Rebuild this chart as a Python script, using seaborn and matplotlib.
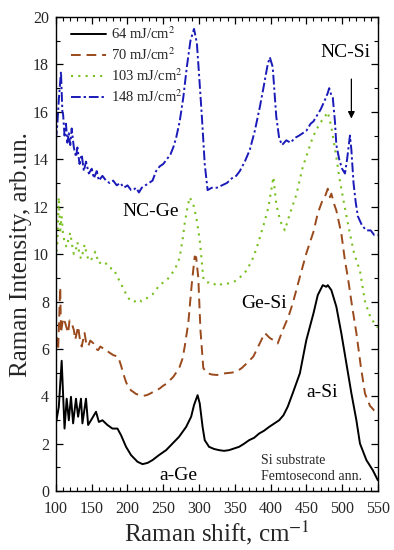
import matplotlib
matplotlib.use("Agg")
import matplotlib.pyplot as plt
import seaborn as sns
import pandas as pd
from matplotlib.ticker import MultipleLocator

# ---------------- data ----------------
x64 = [100,104,108,112,115,118,121,124,128,131,135,137,142,145,149,156,160,165,172,179,186,191,198,205,214,221,228,235,244,254,263,272,282,289,293,298,301,305,308,314,321,328,335,342,349,356,363,370,377,384,391,398,405,412,418,424,431,441,450,460,466,473,478,480,485,492,499,506,513,520,525,534,543,550]
y64 = [2.86,3.56,5.5,2.64,3.9,2.99,3.98,2.86,3.9,3.14,3.9,2.86,3.9,2.79,2.99,3.35,2.92,2.99,2.79,2.64,2.64,2.36,1.87,1.52,1.24,1.14,1.19,1.31,1.52,1.73,2.01,2.29,2.71,3.14,3.63,4.05,3.7,2.71,2.15,1.87,1.78,1.73,1.70,1.73,1.80,1.87,2.0,2.15,2.25,2.43,2.55,2.71,2.85,2.99,3.2,3.56,4.13,4.97,6.37,7.5,8.27,8.69,8.62,8.69,8.48,7.78,6.65,5.39,4.13,2.99,2.01,1.31,0.88,0.46]

x70 = [101,103,106,107,110,113,117,119,122,125,127,131,133,136,140,142,145,148,152,156,159,162,166,170,173,177,180,184,187,191,194,198,201,205,208,212,217,222,227,232,236,240,245,250,255,260,264,268,273,277,280,285,290,294,296,299,302,306,311,318,325,332,339,346,353,360,367,376,385,392,399,404,410,417,425,431,441,450,460,466,473,477,480,483,485,489,492,499,504,508,514,520,526,532,539,545,550]
y70 = [6.5,5.95,8.6,6.67,7.3,7.09,6.67,7.2,7.09,6.8,6.39,6.95,6.5,6.1,6.67,6.3,6.1,6.35,6.25,6.0,5.95,6.1,6.02,5.9,5.88,5.8,5.74,5.7,5.67,5.3,4.97,4.6,4.4,4.25,4.19,4.1,4.05,4.02,4.05,4.12,4.19,4.25,4.33,4.45,4.54,4.7,4.82,5.0,5.25,5.6,6.1,7.09,8.78,9.9,9.87,9.0,6.8,5.19,4.98,4.92,4.9,4.95,4.98,5.0,5.05,5.2,5.4,5.68,6.24,6.67,6.46,6.37,6.23,6.79,7.36,7.92,9.04,10.03,10.94,11.72,12.3,12.5,12.76,12.4,12.55,12.1,11.84,10.86,9.73,9.03,7.8,6.67,5.3,4.12,3.6,3.4,3.3]

x103 = [100,102,104,106,108,110,113,115,118,120,123,125,128,130,133,135,138,140,143,145,148,150,155,160,165,170,175,180,185,190,195,200,205,210,215,220,225,230,235,240,245,250,255,260,265,270,273,277,280,284,287,290,293,297,301,306,310,314,320,326,332,339,346,353,360,367,376,381,387,392,397,401,404,408,412,415,420,427,436,445,452,459,465,471,476,480,485,492,496,503,510,517,525,532,540,550]
y103 = [9.8,10.5,12.4,11.0,11.6,10.8,10.4,10.3,10.7,10.9,10.3,10.0,10.2,10.5,10.0,9.8,10.1,10.4,10.0,9.8,9.7,9.8,10.1,9.6,9.7,9.6,9.4,9.4,9.1,8.8,8.5,8.2,8.0,8.0,8.1,8.0,8.1,8.2,8.3,8.5,8.7,8.8,8.9,9.1,9.3,9.6,9.87,10.6,11.3,12.0,12.4,12.2,12.0,11.4,10.6,9.0,8.8,8.8,8.7,8.8,8.7,8.75,8.8,8.9,9.1,9.32,9.87,10.3,10.9,11.4,11.98,12.7,13.25,12.1,11.6,11.3,11.0,11.7,12.5,13.67,14.3,14.93,15.3,15.6,15.8,15.99,15.36,14.09,13.25,12.1,11.0,10.0,9.3,8.0,7.3,6.9]

x148 = [100,102,104,107,109,110,112,114,116,118,120,122,125,128,130,133,136,139,142,146,150,153,157,160,165,170,175,180,185,190,195,200,205,208,212,216,220,225,230,235,240,245,250,255,260,264,268,273,278,283,288,293,297,300,304,308,312,318,325,332,339,346,352,357,364,371,378,385,390,396,399,403,408,412,416,422,428,434,440,445,450,456,460,464,470,476,480,482,485,487,490,492,496,500,504,507,511,513,516,519,522,528,534,540,545,550]
y148 = [14.8,15.5,16.5,17.7,16.0,15.9,15.0,15.5,14.7,15.1,14.6,15.3,14.5,14.1,14.5,13.8,14.2,13.5,13.9,13.4,13.6,13.2,13.5,13.1,13.3,13.1,13.0,13.1,12.9,13.0,12.8,12.9,12.7,12.7,12.8,12.6,12.8,12.9,13.0,13.1,13.5,13.7,13.8,14.0,14.2,14.5,14.9,15.6,16.6,17.9,19.0,19.5,18.9,17.6,15.8,13.8,12.7,12.8,12.8,12.9,13.0,13.2,13.3,13.5,13.9,14.4,15.2,16.2,17.0,18.0,18.3,17.9,15.8,14.9,14.6,14.8,14.7,14.9,15.0,15.1,15.2,15.5,15.6,15.8,16.1,16.5,16.8,17.0,16.7,16.6,15.6,14.6,14.0,13.6,13.4,14.0,15.0,14.4,13.0,12.2,11.6,11.2,11.0,11.0,10.8,10.8]

labels = ["64 mJ/cm$^2$", "70 mJ/cm$^2$", "103 mJ/cm$^2$", "148 mJ/cm$^2$"]
colors = ["#000000", "#9a4a1c", "#78c020", "#1a1ab8"]

# ---------------- style ----------------
sns.set_theme(style="ticks")
plt.rcParams["font.family"] = ["Liberation Serif", "DejaVu Serif"]
plt.rcParams["mathtext.fontset"] = "stix"
plt.rcParams["xtick.direction"] = "in"
plt.rcParams["ytick.direction"] = "in"

fig = plt.figure(figsize=(3.94, 5.5), dpi=100)
ax = fig.add_axes([0.142, 0.107, 0.817, 0.862])

series = [(x64, y64), (x70, y70), (x103, y103), (x148, y148)]
styles = ["-", (0, (5, 3)), (0, (1, 2.5)), (0, (5, 1.5, 1.2, 1.5))]
widths = [1.4, 1.4, 1.5, 1.4]
for (xs, ys), lab, col, ls, lw in zip(series, labels, colors, styles, widths):
    df = pd.DataFrame({"x": xs, "y": ys})
    sns.lineplot(data=df, x="x", y="y", ax=ax, color=col, linestyle=ls,
                 linewidth=lw, label=lab, estimator=None, sort=False)

ax.set_xlim(100, 550)
ax.set_ylim(0, 20)
ax.xaxis.set_major_locator(MultipleLocator(50))
ax.xaxis.set_minor_locator(MultipleLocator(10))
ax.yaxis.set_major_locator(MultipleLocator(2))
ax.yaxis.set_minor_locator(MultipleLocator(1))
ax.tick_params(which="both", top=True, right=True, direction="in", color="black")
ax.tick_params(which="major", length=5, width=0.9, labelsize=11.5)
ax.tick_params(axis="x", which="major", pad=7)
ax.tick_params(axis="y", which="major", pad=5)
ax.tick_params(which="minor", length=3, width=0.8)
for s in ax.spines.values():
    s.set_color("black")
    s.set_linewidth(1.0)

ax.set_xlabel("Raman shift, cm$^{-1}$", fontsize=18, labelpad=1)
ax.set_ylabel("Raman Intensity, arb.un.", fontsize=18, labelpad=1)

leg = ax.legend(loc="upper left", bbox_to_anchor=(0.02, 1.0), frameon=False,
                fontsize=10.5, handlelength=2.4, handletextpad=0.3,
                labelspacing=0.3, borderaxespad=0.2)

ann = dict(fontsize=14, ha="center", va="center", color="black")
ax.text(504, 18.5, "NC-Si", **ann)
ax.text(233, 11.8, "NC-Ge", **ann)
ax.text(391, 7.9, "Ge-Si", **ann)
ax.text(472, 4.15, "a-Si", **ann)
ax.text(271, 0.68, "a-Ge", **ann)
ax.annotate("", xy=(513, 15.6), xytext=(513, 17.5),
            arrowprops=dict(arrowstyle="-|>", color="black", lw=0.9,
                            mutation_scale=10))
ax.text(386.5, 0.97, "Si substrate\nFemtosecond ann.", fontsize=10,
        ha="left", va="center", linespacing=1.3)

fig.savefig("out.png", dpi=100)
